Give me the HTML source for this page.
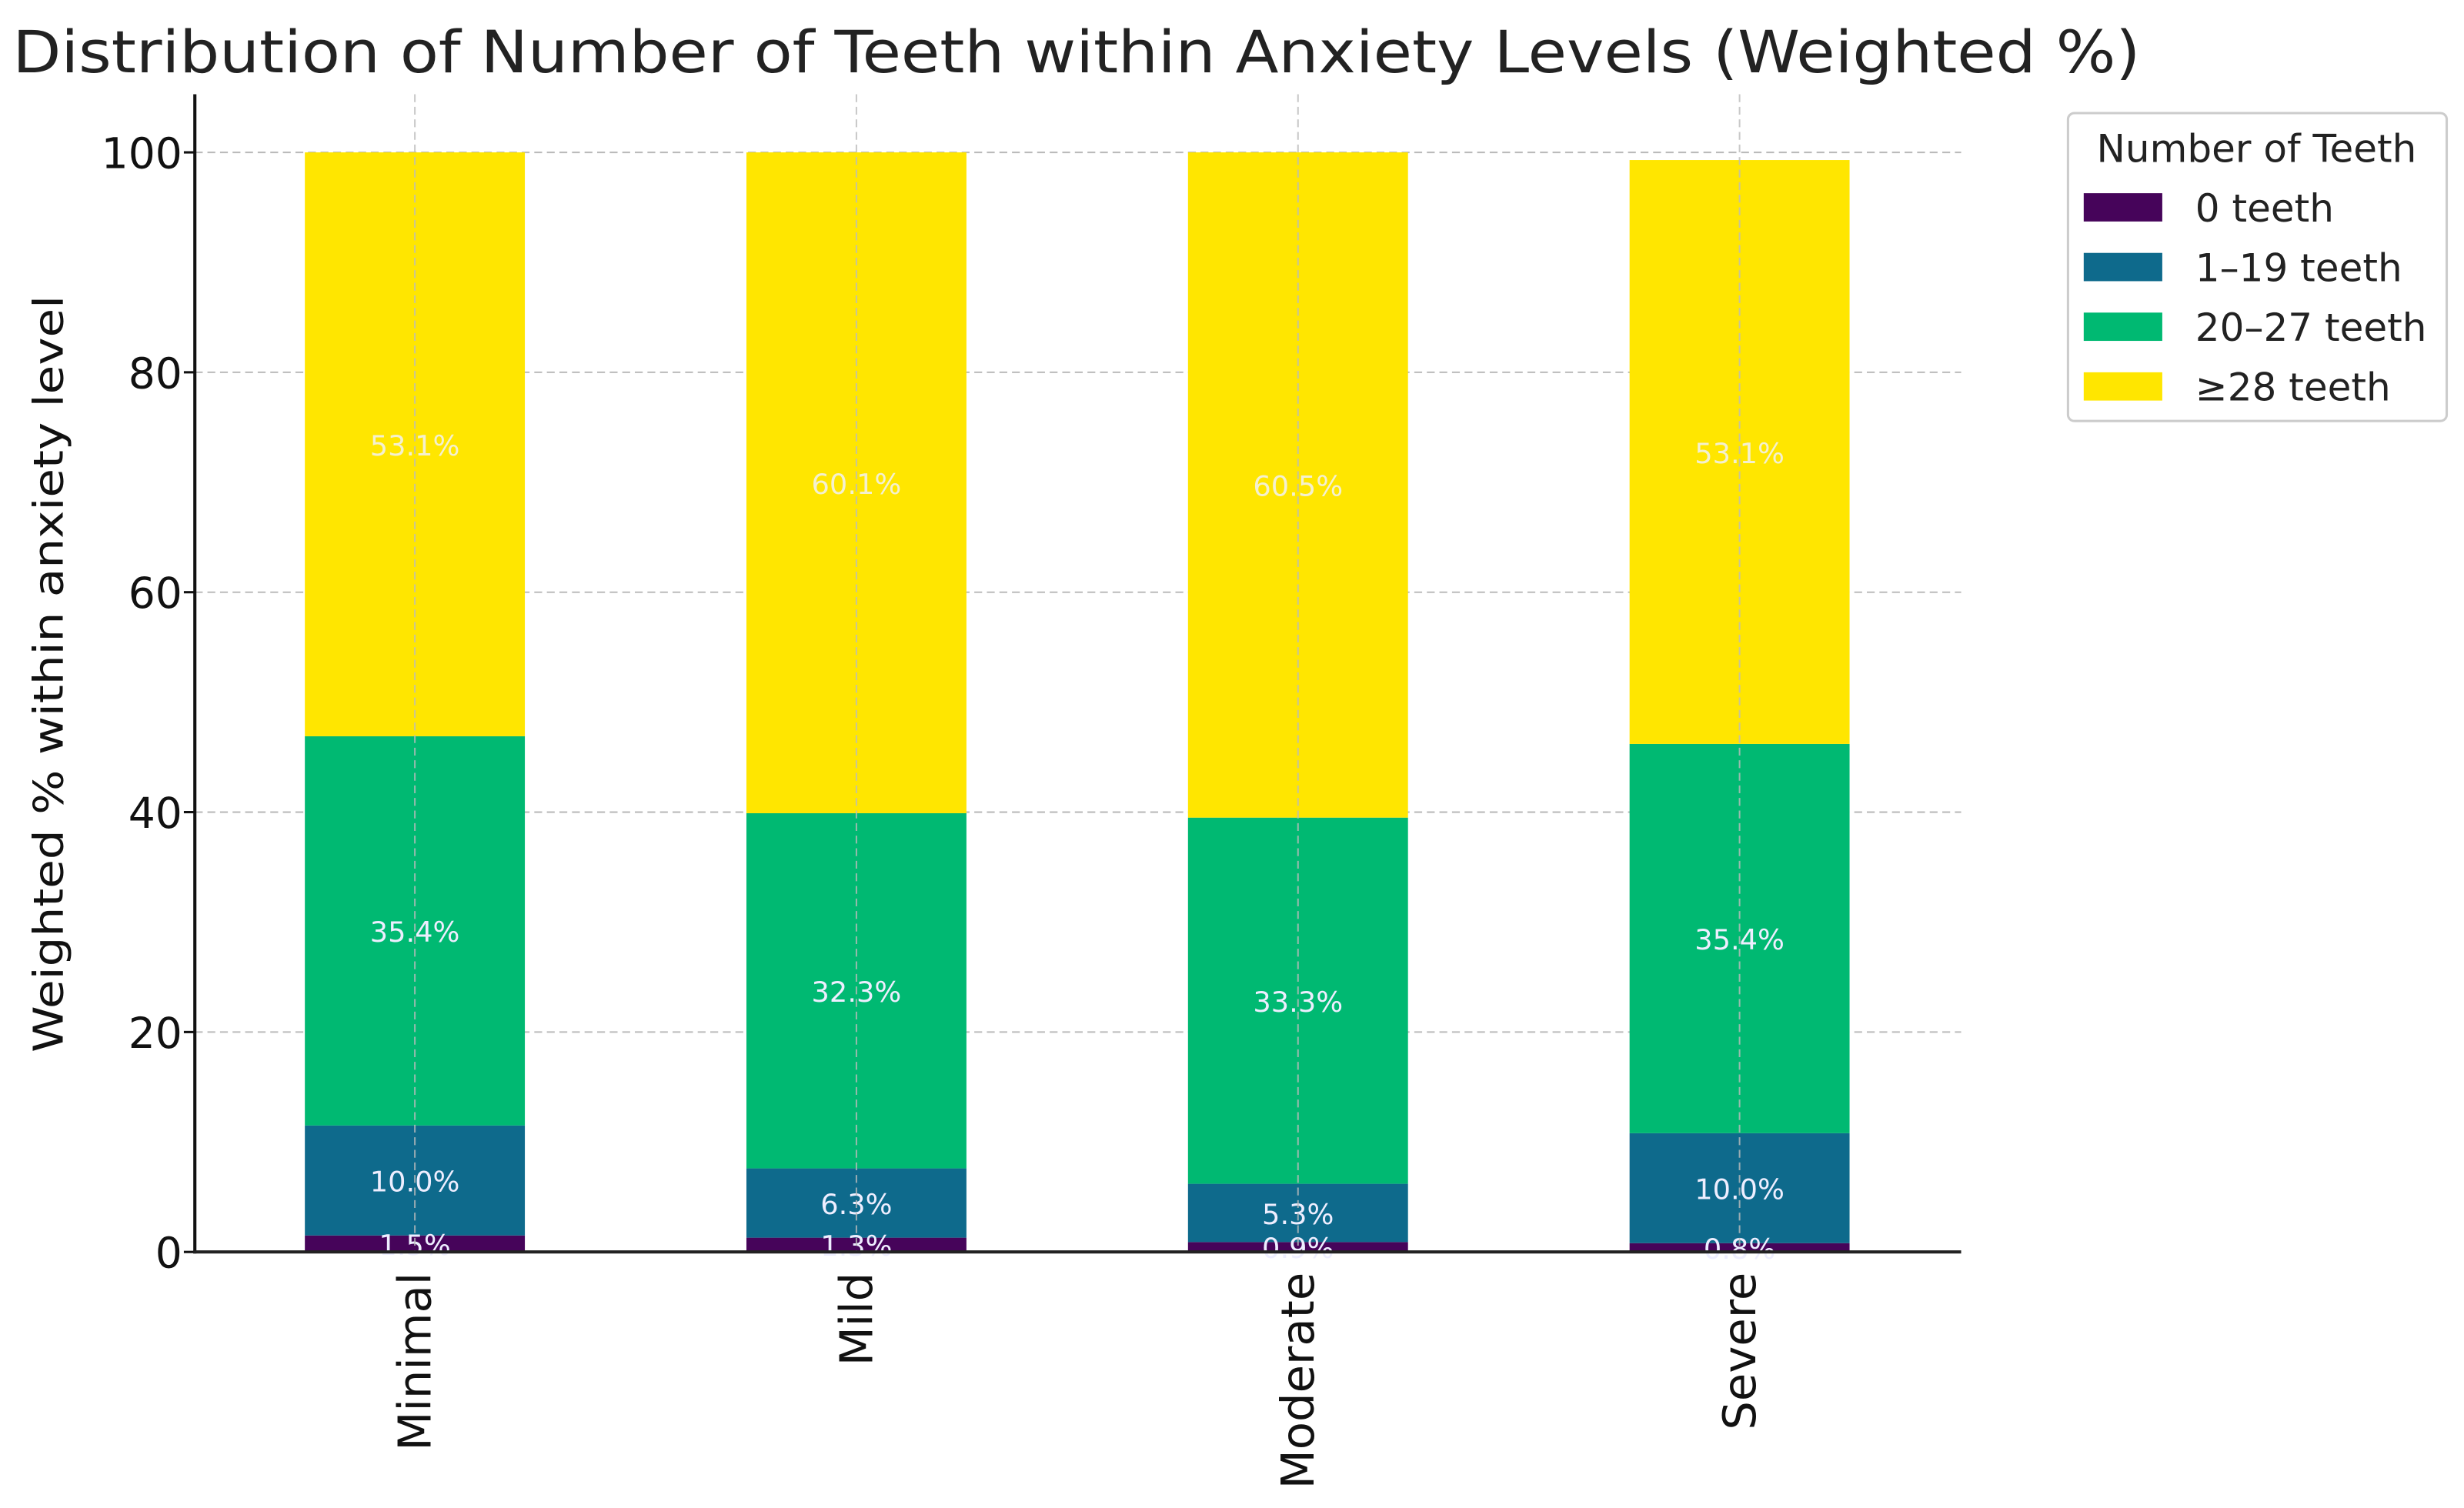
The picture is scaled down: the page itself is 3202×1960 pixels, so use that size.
<!DOCTYPE html>
<html><head><meta charset="utf-8"><style>
html,body{margin:0;padding:0;background:#fff;}
svg{display:block;font-family:"DejaVu Sans","Liberation Sans",sans-serif;}
</style></head><body>
<svg id="chart" width="3202" height="1960" viewBox="0 0 1568 960" preserveAspectRatio="none" xmlns="http://www.w3.org/2000/svg">
<text x="8" y="46" font-size="37" fill="#222" textLength="1354" lengthAdjust="spacingAndGlyphs">Distribution of Number of Teeth within Anxiety Levels (Weighted %)</text>
<text transform="translate(40,429) rotate(-90)" text-anchor="middle" font-size="26" fill="#111" textLength="482" lengthAdjust="spacingAndGlyphs">Weighted % within anxiety level</text>
<g id="grid"></g><g id="bars"></g><g id="labels"></g><g id="axes"></g>
<g>
<rect x="1316" y="72" width="241" height="196" rx="4" fill="#fff" stroke="#ccc" stroke-width="1.5"/>
<text x="1436" y="103" text-anchor="middle" font-size="24.5" fill="#222">Number of Teeth</text>
<g id="legend-items"></g>
</g>
</svg>
<script>
const categories = ["Minimal","Mild","Moderate","Severe"];
const seriesNames = ["0 teeth","1\u201319 teeth","20\u201327 teeth","\u226528 teeth"];
const zeroTeeth = [1.5,1.3,0.9,0.8];
const oneTo19 = [10.0,6.3,5.3,10.0];
const twentyTo27 = [35.4,32.3,33.3,35.4];
const full28 = [53.1,60.1,60.5,53.1];
const yTicks = [0,20,40,60,80,100];
const colors = ["#46045a","#0e6a8c","#00b972","#ffe600"];
const series = [zeroTeeth,oneTo19,twentyTo27,full28];
const NS="http://www.w3.org/2000/svg";
const X0=124,X1=1248,Y0=797,YPX=7.0,STEP=281,FIRST=264,BW=140;
const y=v=>Y0-v*YPX;
const xc=i=>FIRST+i*STEP;
function mk(tag,attrs,parent){const e=document.createElementNS(NS,tag);for(const k in attrs)e.setAttribute(k,attrs[k]);parent.appendChild(e);return e;}
const grid=document.getElementById('grid'),bars=document.getElementById('bars'),labels=document.getElementById('labels'),axes=document.getElementById('axes');
yTicks.forEach(t=>{
  if(t>0){const g=mk('line',{x1:X0,x2:X1,y1:y(t),y2:y(t),stroke:'#bbb','stroke-width':1,'stroke-dasharray':'5,3'},grid);
  
  }
  const tk=mk('line',{x1:X0-7,x2:X0,y1:y(t),y2:y(t),stroke:'#111','stroke-width':1.5},axes);
  
  
  const tl=mk('text',{x:X0-8,y:y(t)+10,'text-anchor':'end','font-size':27,fill:'#111'},axes);
  tl.textContent=t;
  
  
});
categories.forEach((c,i)=>{
  let base=0;
  series.forEach((s,k)=>{
    const v=s[i];
    const r=mk('rect',{x:xc(i)-BW/2,y:y(base+v),width:BW,height:v*YPX,fill:colors[k]},bars);
    
    
    const lt=mk('text',{x:xc(i),y:y(base+v/2)+7,'text-anchor':'middle','font-size':18,fill:k===3?'#f4f0d0':'#eef'},labels);
    lt.textContent=v.toFixed(1)+'%';
    
    
    base+=v;
  });
  const vg=mk('line',{x1:xc(i),x2:xc(i),y1:60,y2:Y0,stroke:'#bbb','stroke-width':1,'stroke-dasharray':'5,3','stroke-opacity':0.8},labels);
  
  
  const xl=mk('text',{transform:`translate(${xc(i)+10},810) rotate(-90)`,'text-anchor':'end','font-size':29,fill:'#111'},axes);
  xl.textContent=c;
  
  
});
const ys=mk('line',{x1:X0,x2:X0,y1:60,y2:Y0+1,stroke:'#111','stroke-width':2},axes);


const xs=mk('line',{x1:X0-1,x2:X1,y1:Y0,y2:Y0,stroke:'#222','stroke-width':2},axes);


const li=document.getElementById('legend-items');
seriesNames.forEach((n,k)=>{
  const yy=132+k*38;
  const p=mk('rect',{x:1326,y:yy-9,width:50,height:18,fill:colors[k]},li);
  
  
  const t=mk('text',{x:1397,y:yy+9,'font-size':24.5,fill:'#222'},li);
  t.textContent=n;
  
  
});
</script>
</body></html>
